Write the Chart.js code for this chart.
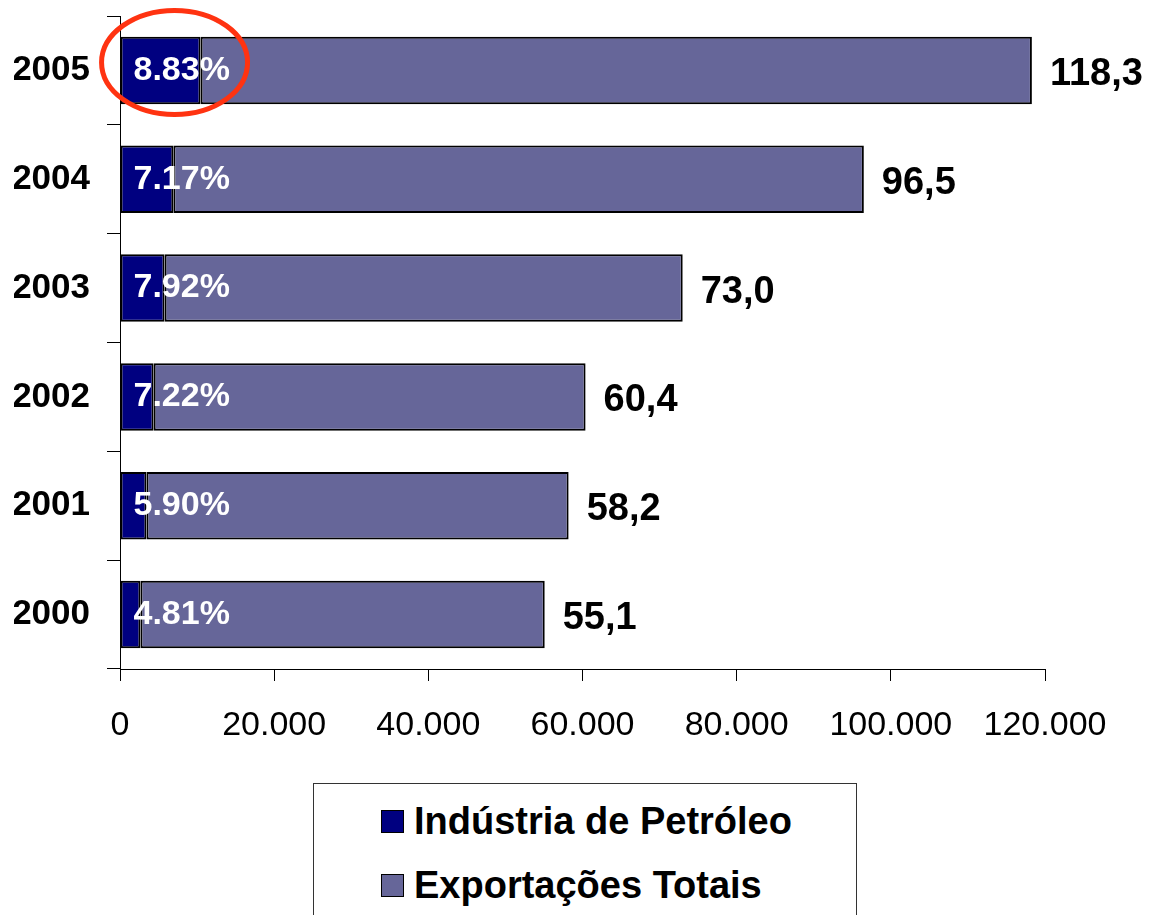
<!DOCTYPE html>
<html>
<head>
<meta charset="utf-8">
<script src="https://cdn.jsdelivr.net/npm/chart.js@4.4.1/dist/chart.umd.min.js"></script>
<style>
  body { margin: 0; overflow: hidden; background: #fff; }
  #wrap { position: relative; width: 1150px; height: 915px; }
  #legend {
    position: absolute; left: 313px; top: 783px; width: 542px; height: 200px;
    border: 1px solid #333; background: #fff;
    font-family: "Liberation Sans", Arial, sans-serif; font-weight: bold; font-size: 38px; color: #000;
  }
  .item { position: absolute; left: 67px; white-space: nowrap; line-height: 40px; }
  .box { display: inline-block; width: 21px; height: 21px; border: 1.5px solid #000; margin-right: 10px; vertical-align: 1px; }
</style>
</head>
<body>
<div id="wrap">
  <canvas id="myChart" width="1150" height="915"></canvas>
  <div id="legend">
    <div class="item" style="top:17px"><span class="box" style="background:#000080"></span>Indústria de Petróleo</div>
    <div class="item" style="top:81px"><span class="box" style="background:#666699"></span>Exportações Totais</div>
  </div>
</div>
<script>
// values (US$ million)
let years = ['2000', '2001', '2002', '2003', '2004', '2005'];
let totalExports = [55100, 58200, 60400, 73000, 96500, 118300];
let petroleumExports = [2650, 3430, 4360, 5780, 6920, 10450];
let shareLabels = ['4.81%', '5.90%', '7.22%', '7.92%', '7.17%', '8.83%'];
let xTicks = [0, 20000, 40000, 60000, 80000, 100000, 120000];

let font = '"Liberation Sans", Arial, sans-serif';

// rest of the bar, so the stack ends at the total
let restExports = [];
for (let i = 0; i < years.length; i++) {
  restExports.push(totalExports[i] - petroleumExports[i]);
}

let labelPlugin = {
  id: 'labels',
  afterDatasetsDraw(chart) {
    let ctx = chart.ctx;
    let petro = chart.getDatasetMeta(0).data;
    let rest = chart.getDatasetMeta(1).data;
    ctx.save();
    ctx.textBaseline = 'middle';
    for (let i = 0; i < years.length; i++) {
      // share inside the bar
      ctx.fillStyle = '#fff';
      ctx.font = 'bold 34px ' + font;
      ctx.textAlign = 'left';
      ctx.fillText(shareLabels[i], petro[i].base + 13, petro[i].y);
      // total at the end
      ctx.fillStyle = '#000';
      ctx.font = 'bold 38px ' + font;
      let txt = (totalExports[i] / 1000).toFixed(1).replace('.', ',');
      ctx.fillText(txt, rest[i].x + 18, rest[i].y + 4);
    }
    // red ring round the 2005 petroleum part
    let last = petro[years.length - 1];
    ctx.strokeStyle = '#ff3311';
    ctx.lineWidth = 5;
    ctx.beginPath();
    ctx.ellipse(last.x - 26, last.y - 8, 73, 52, 0, 0, Math.PI * 2);
    ctx.stroke();
    ctx.restore();
  }
};

var myChart = document.getElementById('myChart').getContext('2d');

var exportChart = new Chart(myChart, {
  type: 'bar',
  data: {
    labels: years,
    datasets: [{
      label: 'Indústria de Petróleo',
      data: petroleumExports,
      backgroundColor: '#000080',
      borderColor: '#000',
      borderWidth: 2,
      borderSkipped: false
    }, {
      label: 'Exportações Totais',
      data: restExports,
      backgroundColor: '#666699',
      borderColor: '#000',
      borderWidth: 2,
      borderSkipped: false
    }]
  },
  options: {
    indexAxis: 'y',
    responsive: false,
    animation: false,
    barPercentage: 0.62,
    categoryPercentage: 1,
    layout: { padding: { left: 14, top: 16, right: 105, bottom: 0 } },
    scales: {
      x: {
        stacked: true,
        min: 0,
        max: 120000,
        afterBuildTicks(scale) {
          scale.ticks = xTicks.map(v => ({ value: v }));
        },
        afterFit(scale) { scale.height = 246; },
        grid: { drawOnChartArea: false, tickLength: 12, color: '#000' },
        border: { color: '#000', width: 1 },
        ticks: {
          color: '#000',
          padding: 24,
          maxRotation: 0,
          font: { family: font, size: 34 },
          callback: v => v === 0 ? '0' : v.toLocaleString('de-DE')
        }
      },
      y: {
        stacked: true,
        reverse: true,
        afterFit(scale) {
          scale.width = 106;
          scale.paddingTop = 0;
          scale.paddingBottom = 0;
        },
        grid: { offset: true, drawOnChartArea: false, tickLength: 13, color: '#000' },
        border: { color: '#000', width: 1 },
        ticks: {
          color: '#000',
          padding: 17,
          font: { family: font, size: 35, weight: 'bold' }
        }
      }
    },
    plugins: {
      legend: { display: false },
      tooltip: { enabled: false }
    }
  },
  plugins: [labelPlugin]
});
</script>
</body>
</html>
